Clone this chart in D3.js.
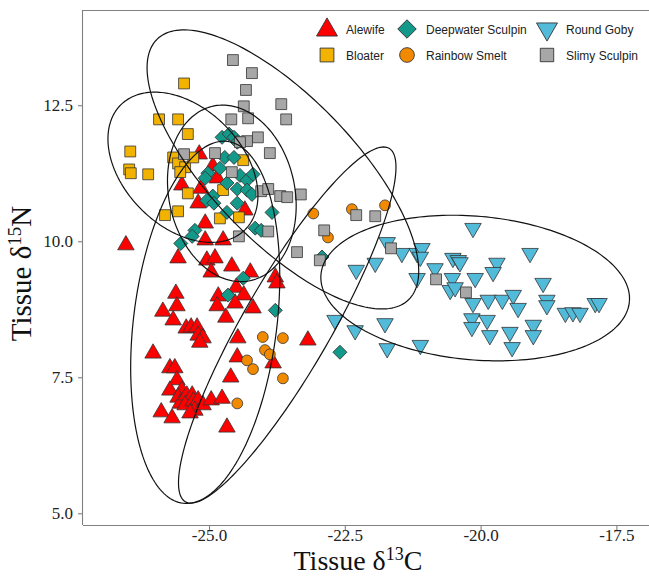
<!DOCTYPE html>
<html>
<head>
<meta charset="utf-8">
<script src="https://cdn.jsdelivr.net/npm/d3@7"></script>
<style>
  body { margin: 0; background: #fff; }
  svg { display: block; }
</style>
</head>
<body>
<svg id="chart" width="649" height="576"></svg>
<script>
// species in legend order (column-wise: Alewife, Bloater | Deepwater, Smelt | Goby, Slimy)
const species = ["Alewife", "Bloater", "Deepwater Sculpin", "Rainbow Smelt", "Round Goby", "Slimy Sculpin"];
const fills = ["#ff0000", "#f2b300", "#13998a", "#f28a00", "#52bbd9", "#a7a7a7"];

// [d13C, d15N]
const alewife = [
  [-25.18,11.60],[-24.93,11.38],[-24.85,11.16],[-25.50,11.03],[-25.15,10.97],[-25.20,10.70],
  [-24.34,10.57],[-25.07,10.33],[-25.07,10.02],[-24.74,10.02],[-26.53,9.93],[-25.57,9.69],
  [-25.04,9.65],[-24.89,9.69],[-24.96,9.43],[-24.58,9.54],[-24.24,9.43],[-23.78,9.34],
  [-23.75,9.23],[-25.61,9.04],[-24.83,8.99],[-24.50,9.15],[-24.36,9.01],[-25.85,8.71],
  [-25.59,8.81],[-25.66,8.55],[-24.85,8.81],[-24.52,8.86],[-24.19,8.77],[-24.69,8.60],
  [-25.42,8.40],[-25.33,8.42],[-25.22,8.42],[-25.20,8.27],[-25.11,8.22],[-25.17,8.14],
  [-26.03,7.94],[-24.47,8.22],[-23.18,8.18],[-24.48,7.87],[-23.82,7.76],[-25.72,7.67],
  [-25.63,7.67],[-25.59,7.45],[-24.60,7.50],[-25.72,7.26],[-25.50,7.26],[-25.57,7.13],
  [-25.53,7.02],[-25.41,7.17],[-25.31,7.17],[-25.44,6.99],[-25.29,7.06],[-25.20,7.08],
  [-25.26,6.89],[-25.35,6.84],[-25.11,6.99],[-24.96,7.08],[-24.76,7.11],[-25.88,6.86],
  [-25.68,6.75],[-24.67,6.58]
];
const bloater = [
  [-25.46,12.90],[-25.92,12.24],[-25.57,12.24],[-25.39,11.97],[-26.45,11.65],[-26.47,11.32],
  [-26.44,11.25],[-26.12,11.23],[-25.66,11.54],[-25.57,11.43],[-25.44,11.36],[-25.29,11.54],
  [-25.53,11.27],[-24.37,11.49],[-25.39,10.88],[-24.74,10.94],[-25.81,10.48],[-25.57,10.55],
  [-24.80,10.42],[-24.45,10.44]
];
const deepwater = [
  [-24.76,11.91],[-24.63,11.97],[-24.54,11.91],[-24.48,11.82],[-24.71,11.54],[-24.54,11.54],
  [-25.02,11.25],[-25.07,11.16],[-24.67,11.07],[-24.43,11.21],[-24.30,11.12],[-24.19,11.23],
  [-24.48,10.96],[-24.30,10.94],[-24.21,10.86],[-24.93,10.83],[-25.04,10.75],[-24.91,10.70],
  [-24.48,10.70],[-24.67,10.53],[-23.84,10.53],[-24.15,10.24],[-24.04,10.20],[-25.26,10.20],
  [-25.31,10.09],[-25.52,9.96],[-24.37,9.32],[-24.65,9.01],[-23.78,8.73],[-22.92,9.71],
  [-22.59,7.96],[-24.80,11.34]
];
const smelt = [
  [-23.08,10.51],[-22.37,10.59],[-21.76,10.66],[-22.81,10.07],[-24.01,8.24],[-23.64,8.22],
  [-23.97,8.00],[-23.88,7.92],[-24.30,7.81],[-24.19,7.65],[-23.64,7.48],[-24.48,7.02]
];
const goby = [
  [-20.14,10.24],[-21.72,9.98],[-21.45,9.78],[-21.17,9.78],[-21.08,9.87],[-21.11,9.71],
  [-21.94,9.60],[-22.29,9.47],[-20.84,9.50],[-20.51,9.69],[-20.41,9.65],[-20.38,9.61],
  [-19.70,9.60],[-19.77,9.43],[-19.09,9.78],[-21.17,9.32],[-20.52,9.32],[-20.10,9.32],
  [-18.85,9.23],[-22.68,8.55],[-22.31,8.36],[-21.76,8.49],[-21.72,8.03],[-21.11,8.09],
  [-20.14,8.86],[-19.86,8.92],[-19.60,8.92],[-19.40,9.01],[-19.31,8.77],[-20.16,8.58],
  [-20.16,8.42],[-19.88,8.55],[-19.83,8.27],[-19.46,8.33],[-19.42,8.05],[-19.03,8.46],
  [-19.03,8.27],[-18.78,8.92],[-18.78,8.82],[-18.44,8.68],[-18.30,8.69],[-18.17,8.68],
  [-17.89,8.86],[-17.82,8.86],[-20.56,9.10],[-20.47,9.15]
];
const slimy = [
  [-24.56,13.33],[-24.21,13.09],[-24.32,12.78],[-24.36,12.48],[-23.67,12.52],[-23.58,12.24],
  [-24.28,12.26],[-24.59,12.24],[-24.10,11.91],[-24.30,11.84],[-24.43,11.82],[-23.88,11.62],
  [-24.89,11.62],[-25.46,11.60],[-24.58,11.27],[-24.04,10.92],[-23.91,10.96],[-23.69,10.83],
  [-23.56,10.81],[-23.31,10.86],[-23.91,10.18],[-24.45,10.09],[-23.38,9.80],[-22.88,10.20],
  [-22.96,9.65],[-22.29,10.48],[-21.94,10.46],[-21.65,9.87],[-20.82,9.30],[-20.27,9.06]
];
const seriesData = [alewife, bloater, deepwater, smelt, goby, slimy];

// ellipses: [centre C, centre N, semi-major, semi-minor, angle deg]
const ellipseParams = [
  [-25.07, 8.51, 3.35, 1.32, 83],
  [-25.48, 11.36, 1.62, 1.09, -45],
  [-24.58, 10.88, 1.64, 1.16, 102],
  [-23.56, 8.46, 3.75, 0.81, 60],
  [-20.10, 9.14, 2.85, 1.32, -5],
  [-23.64, 11.32, 3.33, 1.32, -46]
];

const xTicks = [-25.0, -22.5, -20.0, -17.5];
const yTicks = [5.0, 7.5, 10.0, 12.5];

const svg = d3.select("#chart");
const pLeft = 83, pRight = 649, pTop = 10, pBottom = 525;

const x = d3.scaleLinear().domain([-27.32, -16.9]).range([pLeft, pRight]);
const y = d3.scaleLinear().domain([4.785, 14.25]).range([pBottom, pTop]);

// panel frame (top, left, bottom)
const axisCol = "#808080";
svg.append("line").attr("x1", pLeft).attr("x2", pRight).attr("y1", pTop + 0.5).attr("y2", pTop + 0.5)
  .attr("stroke", axisCol).attr("stroke-width", 1.1);

const xAxis = svg.append("g")
  .attr("transform", `translate(0,${pBottom})`)
  .call(d3.axisBottom(x).tickValues(xTicks).tickFormat(d => d.toFixed(1)).tickSize(5).tickSizeOuter(0));
const yAxis = svg.append("g")
  .attr("transform", `translate(${pLeft},0)`)
  .call(d3.axisLeft(y).tickValues(yTicks).tickFormat(d => d.toFixed(1)).tickSize(5).tickSizeOuter(0));

[xAxis, yAxis].forEach(g => {
  g.select(".domain").attr("stroke", axisCol).attr("stroke-width", 1.1);
  g.selectAll(".tick line").attr("stroke", axisCol).attr("stroke-width", 1.1);
  g.selectAll(".tick text")
    .attr("font-family", "'Liberation Serif', 'Times New Roman', serif")
    .attr("font-size", 17).attr("fill", "#222");
});
xAxis.selectAll(".tick text").attr("y", 4).attr("dy", "0.71em");
yAxis.selectAll(".tick text").attr("x", -10);

// extend the axis lines to the full panel
xAxis.select(".domain").attr("d", `M${pLeft},0.5H${pRight}`);
yAxis.select(".domain").attr("d", `M-0.5,${pTop}V${pBottom}`);

// points
const symbolTypes = [d3.symbolTriangle, d3.symbolSquare, d3.symbolSquare, d3.symbolCircle, d3.symbolTriangle, d3.symbolSquare];
const symbolSizes = [118, 118, 98, 92, 118, 118];
const symbolRotate = [0, 0, 45, 0, 180, 0];

const pts = svg.append("g");
seriesData.forEach((arr, i) => {
  pts.append("g").selectAll("path")
    .data(arr)
    .join("path")
    .attr("d", d3.symbol(symbolTypes[i], symbolSizes[i]))
    .attr("transform", d => `translate(${x(d[0])},${y(d[1])}) rotate(${symbolRotate[i]})`)
    .attr("fill", fills[i])
    .attr("stroke", "#333")
    .attr("stroke-width", 0.8);
});

// ellipses
const line = d3.line().x(d => x(d[0])).y(d => y(d[1]));
const ellG = svg.append("g");
ellipseParams.forEach(p => {
  const [cx, cy, a, b, ang] = p;
  const th = ang * Math.PI / 180;
  const ring = d3.range(0, 201).map(k => {
    const t = k / 200 * 2 * Math.PI;
    return [cx + a * Math.cos(t) * Math.cos(th) - b * Math.sin(t) * Math.sin(th),
            cy + a * Math.cos(t) * Math.sin(th) + b * Math.sin(t) * Math.cos(th)];
  });
  ellG.append("path").attr("d", line(ring))
    .attr("fill", "none").attr("stroke", "#111").attr("stroke-width", 1.2);
});

// legend
const legendPos = [[327, 29], [327, 55], [407, 29], [407, 55], [547, 29], [547, 55]];
const legendSizes = [190, 190, 170, 170, 190, 180];
const lg = svg.append("g");
species.forEach((s, i) => {
  const [lx, ly] = legendPos[i];
  lg.append("path")
    .attr("d", d3.symbol(symbolTypes[i], legendSizes[i]))
    .attr("transform", `translate(${lx},${ly + (i === 0 ? 1 : 0)}) rotate(${symbolRotate[i]})`)
    .attr("fill", fills[i]).attr("stroke", "#333").attr("stroke-width", 0.9);
  lg.append("text")
    .attr("x", lx + 19).attr("y", ly + 4.5)
    .attr("font-family", "'Liberation Sans', Arial, Helvetica, sans-serif")
    .attr("font-size", 12).attr("fill", "#222")
    .text(s);
});

// axis titles
const serif = "'Liberation Serif', 'Times New Roman', serif";
const xt = svg.append("text")
  .attr("x", 358).attr("y", 570)
  .attr("text-anchor", "middle")
  .attr("font-family", serif).attr("font-size", 28).attr("fill", "#111");
xt.append("tspan").text("Tissue δ");
xt.append("tspan").attr("font-size", 18).attr("dy", -10).text("13");
xt.append("tspan").attr("dy", 10).text("C");

const yt = svg.append("text")
  .attr("transform", `translate(31,${(pTop + pBottom) / 2 + 6}) rotate(-90)`)
  .attr("text-anchor", "middle")
  .attr("font-family", serif).attr("font-size", 29).attr("fill", "#111");
yt.append("tspan").text("Tissue δ");
yt.append("tspan").attr("font-size", 19).attr("dy", -10).text("15");
yt.append("tspan").attr("dy", 10).text("N");
</script>
</body>
</html>
